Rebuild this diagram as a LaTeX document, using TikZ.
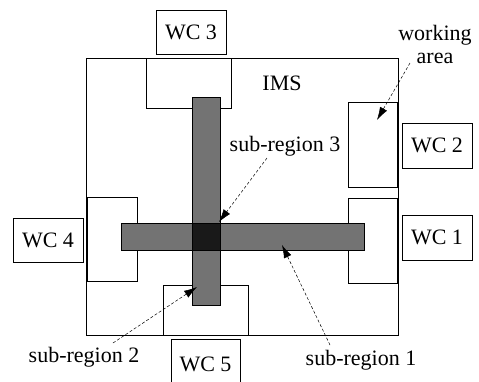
\documentclass[tikz,border=0pt]{standalone}
\usepackage{fontspec}
\setmainfont{Liberation Serif}
\usetikzlibrary{arrows.meta}
\begin{document}
\begin{tikzpicture}[x=1pt,y=-1pt,
  box/.style={draw=black,line width=0.9pt,fill=white,inner sep=0pt,outer sep=0pt},
  wc/.style={box,font=\fontsize{22}{24}\selectfont},
  bar/.style={draw=black,line width=0.6pt,fill=black!55,inner sep=0pt,outer sep=0pt},
  lab/.style={font=\fontsize{22}{23}\selectfont,inner sep=0pt},
  ptr/.style={densely dashed,line width=0.5pt,-{Latex[length=13pt,width=8pt]}}]
\clip (0,0) rectangle (479,381);
\fill[white] (0,0) rectangle (479,381);
% IMS frame
\node[box,minimum width=312,minimum height=277] (ims) at (242,196.5) {};
% working areas
\node[box,minimum width=85,minimum height=50] (wa3) at (188.5,83) {};
\node[box,minimum width=49,minimum height=85] (wa2) at (372.5,144.5) {};
\node[box,minimum width=49,minimum height=85] (wa1) at (372.5,240.5) {};
\node[box,minimum width=50,minimum height=84] (wa4) at (112,239) {};
\node[box,minimum width=85,minimum height=50] (wa5) at (205.5,310) {};
% workcells
\node[wc,minimum width=70,minimum height=44] (wc3) at (191,32) {WC 3};
\node[wc,minimum width=70,minimum height=45] (wc2) at (437,145.5) {WC 2};
\node[wc,minimum width=70,minimum height=45] (wc1) at (437,237.5) {WC 1};
\node[wc,minimum width=70,minimum height=44] (wc4) at (48,240) {WC 4};
\node[wc,minimum width=69,minimum height=50] (wc5) at (205.5,364) {WC 5};
% sub-region bars
\node[bar,minimum width=28,minimum height=208] (vbar) at (206,201) {};
\node[bar,minimum width=243,minimum height=27] (hbar) at (242.5,236.5) {};
\node[bar,fill=black!90,minimum width=28,minimum height=27] (cross) at (206,236.5) {};
% labels
\node[lab] (imslab) at (282,83) {IMS};
\node[lab,align=center] (walab) at (435,44) {working\\area};
\node[lab] (sr3) at (285,146) {sub-region 3};
\node[lab] (sr2) at (84,357) {sub-region 2};
\node[lab] (sr1) at (361,360) {sub-region 1};
% pointer ends
\coordinate (wa-s) at (410,63);
\coordinate (wa-t) at (377,120);
\coordinate (sr3-s) at (267,158);
\coordinate (sr3-t) at (219,222);
\coordinate (sr2-s) at (113,343);
\coordinate (sr2-t) at (197,287);
\coordinate (sr1-s) at (330,345);
\coordinate (sr1-t) at (282,245);
\draw[ptr] (wa-s) -- (wa-t);
\draw[ptr] (sr3-s) -- (sr3-t);
\draw[ptr] (sr2-s) -- (sr2-t);
\draw[ptr] (sr1-s) -- (sr1-t);
\end{tikzpicture}
\end{document}
